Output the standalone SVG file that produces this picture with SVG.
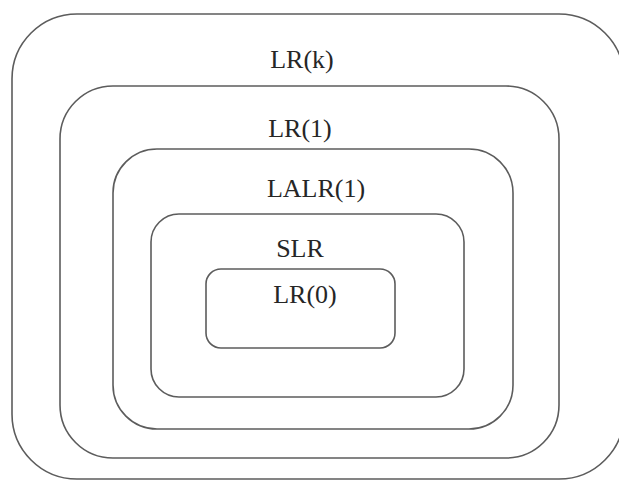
<svg xmlns="http://www.w3.org/2000/svg" width="619" height="481" viewBox="0 0 619 481">
  <style>
    .box { fill: none; stroke: #5c5c5c; stroke-width: 1.6; }
    .lbl { font-family: "Liberation Serif", "Times New Roman", serif; font-size: 26px; fill: #262626; text-anchor: middle; }
  </style>
  <rect x="0" y="0" width="619" height="481" fill="#ffffff"/>
  <!-- nested parser classes, outermost first -->
  <g id="lrk">
    <rect class="box" x="12" y="14" width="612" height="465" rx="65" ry="65"/>
    <text class="lbl" x="302" y="68">LR(k)</text>
  </g>
  <g id="lr1">
    <rect class="box" x="60" y="86" width="499" height="372" rx="53" ry="53"/>
    <text class="lbl" x="300" y="137">LR(1)</text>
  </g>
  <g id="lalr1">
    <rect class="box" x="113" y="149" width="400" height="280" rx="44" ry="44"/>
    <text class="lbl" x="316" y="197">LALR(1)</text>
  </g>
  <g id="slr">
    <rect class="box" x="151" y="214" width="313" height="183" rx="28" ry="28"/>
    <text class="lbl" x="300" y="257">SLR</text>
  </g>
  <g id="lr0">
    <rect class="box" x="206" y="269" width="189" height="79" rx="15" ry="15"/>
    <text class="lbl" x="305" y="303">LR(0)</text>
  </g>
  <g id="connectors"/>
</svg>
